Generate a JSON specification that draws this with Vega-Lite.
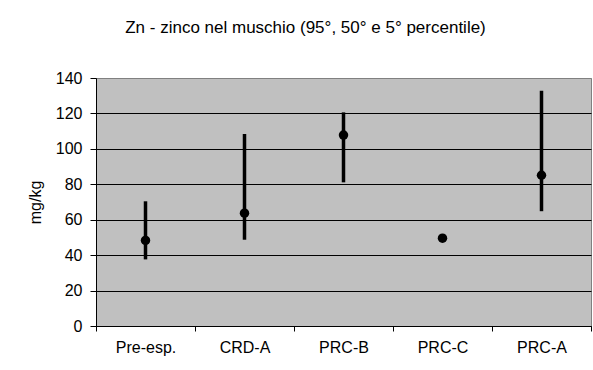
{
  "$schema": "https://vega.github.io/schema/vega-lite/v6.json",
  "autosize": "none",
  "width": 495,
  "height": 248,
  "padding": {"left": 96, "top": 78, "right": 2, "bottom": 44},
  "background": "white",
  "title": {
    "text": "Zn - zinco nel muschio (95°, 50° e 5° percentile)",
    "font": "Liberation Sans",
    "fontSize": 17,
    "fontWeight": "normal",
    "color": "black",
    "anchor": "middle",
    "dx": -38,
    "offset": 33
  },
  "config": {
    "view": {"fill": "#c0c0c0", "stroke": "#808080", "strokeWidth": 1},
    "axis": {
      "labelFont": "Liberation Sans",
      "titleFont": "Liberation Sans",
      "labelFontSize": 16,
      "titleFontSize": 16,
      "titleFontWeight": "normal",
      "labelColor": "black",
      "titleColor": "black",
      "domainColor": "black",
      "tickColor": "black"
    }
  },
  "data": {
    "values": [
      {"site": "Pre-esp.", "p5": 37.6, "p50": 48.3, "p95": 70.4},
      {"site": "CRD-A", "p5": 48.7, "p50": 63.7, "p95": 108.4},
      {"site": "PRC-B", "p5": 81.1, "p50": 107.8, "p95": 120.6},
      {"site": "PRC-C", "p5": null, "p50": 49.6, "p95": null},
      {"site": "PRC-A", "p5": 64.8, "p50": 85.1, "p95": 132.8}
    ]
  },
  "encoding": {
    "x": {
      "field": "site",
      "type": "nominal",
      "sort": ["Pre-esp.", "CRD-A", "PRC-B", "PRC-C", "PRC-A"],
      "scale": {"domain": ["Pre-esp.", "CRD-A", "PRC-B", "PRC-C", "PRC-A"], "paddingInner": 0, "paddingOuter": 0},
      "axis": {
        "title": null,
        "labelAngle": 0,
        "tickBand": "extent",
        "tickSize": 5,
        "labelPadding": 8,
        "domainWidth": 1,
        "grid": false
      }
    }
  },
  "layer": [
    {
      "mark": {"type": "rule", "color": "black", "strokeWidth": 3.5},
      "encoding": {
        "y": {
          "field": "p5",
          "type": "quantitative",
          "scale": {"domain": [0, 140], "nice": false},
          "axis": {
            "title": "mg/kg",
            "values": [0, 20, 40, 60, 80, 100, 120, 140],
            "labelOverlap": false,
            "grid": true,
            "gridColor": {"condition": {"test": "datum.value === 140", "value": "#808080"}, "value": "black"},
            "gridOpacity": 1,
            "tickSize": 6,
            "labelPadding": 8,
            "titlePadding": 12
          }
        },
        "y2": {"field": "p95"}
      }
    },
    {
      "mark": {"type": "circle", "color": "black", "opacity": 1, "size": 90},
      "encoding": {
        "y": {
          "field": "p50",
          "type": "quantitative",
          "scale": {"domain": [0, 140], "nice": false},
          "axis": {
            "title": "mg/kg",
            "values": [0, 20, 40, 60, 80, 100, 120, 140],
            "labelOverlap": false,
            "grid": true,
            "gridColor": {"condition": {"test": "datum.value === 140", "value": "#808080"}, "value": "black"},
            "gridOpacity": 1,
            "tickSize": 6,
            "labelPadding": 8,
            "titlePadding": 12
          }
        }
      }
    }
  ]
}
